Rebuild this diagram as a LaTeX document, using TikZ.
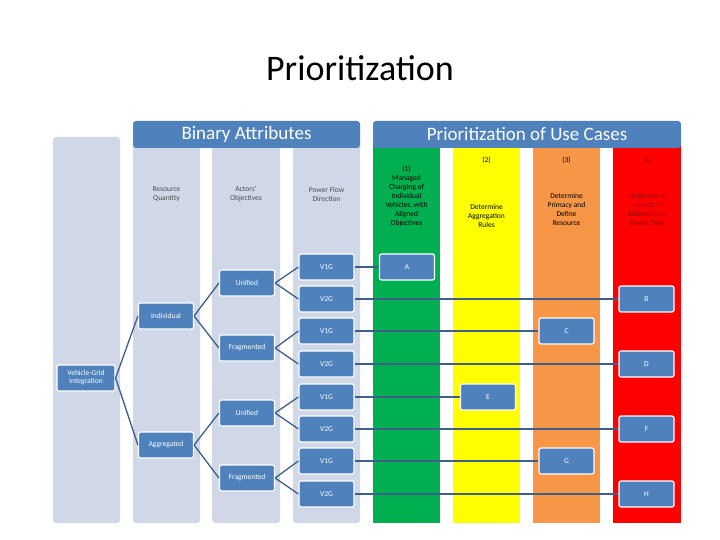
\documentclass[tikz,border=0pt]{standalone}
\usepackage{fontspec}
\setmainfont{Carlito}
\begin{document}
\begin{tikzpicture}[x=1pt,y=-1pt,
 col/.style={fill=colbg,rounded corners=3pt},
 hdr/.style={fill=hblue,rounded corners=3pt,text=white,font=\fontsize{19}{20}\selectfont},
 nb/.style={draw=white,line width=1.2pt,fill=hblue,rounded corners=2pt,text=white,font=\fontsize{7.5}{8}\selectfont,minimum width=55pt,minimum height=26pt,inner sep=1pt,align=center},
 ct/.style={font=\fontsize{7.5}{9}\selectfont,align=center,text=black!70},
 ln/.style={draw=lnblue,line width=1.3pt}]
\definecolor{hblue}{HTML}{4F81BD}
\definecolor{colbg}{HTML}{D0D8E8}
\definecolor{lnblue}{HTML}{3F5F8A}
\definecolor{cg}{HTML}{00B050}
\definecolor{cy}{HTML}{FFFF00}
\definecolor{co}{HTML}{F79646}
\definecolor{cr}{HTML}{FF0000}
\useasboundingbox (0,0) rectangle (720,540);
\node (title) at (360,68) {\fontsize{36}{40}\selectfont Prioritization};
% columns
\fill[col] (53,137) rectangle (120,523);
\fill[col] (133,140) rectangle (200,523);
\fill[col] (212,140) rectangle (280,523);
\fill[col] (293,140) rectangle (360,523);
\fill[cg] (373,140) rectangle (440,523);
\fill[cy] (453,140) rectangle (520,523);
\fill[co] (533,140) rectangle (600,523);
\fill[cr] (613,140) rectangle (681,523);
\node[hdr,minimum width=227pt,minimum height=27pt] (h1) at (246.5,134.5) {Binary Attributes};
\node[hdr,minimum width=308pt,minimum height=27pt] (h2) at (527,134.5) {Prioritization of Use Cases};
\node[ct] (t1) at (166.5,194) {Resource\\Quantity};
\node[ct] (t2) at (246,194) {Actors'\\Objectives};
\node[ct] (t3) at (326.5,194) {Power Flow\\Direction};
\node[ct,text=black] (u1) at (406.5,196) {(1)\\Managed\\Charging of\\Individual\\Vehicles, with\\Aligned\\Objectives};
\node[ct,text=black] (u2a) at (486.5,160) {(2)};
\node[ct,text=black] (u2) at (486.5,216) {Determine\\Aggregation\\Rules};
\node[ct,text=black] (u3a) at (566.5,160) {(3)};
\node[ct,text=black] (u3) at (566.5,209) {Determine\\Primacy and\\Define\\Resource};
\node[ct,text=red!60!black] (u4a) at (647,160) {(4)};
\node[ct,text=red!60!black] (u4) at (647,209) {Understand\\Impacts of\\Bidirectional\\Power Flow};
% tree
\node[nb,minimum width=58pt] (vgi) at (86,378) {Vehicle-Grid\\Integration};
\node[nb] (ind) at (166,316) {Individual};
\node[nb] (agg) at (166,445) {Aggregated};
\node[nb] (u1n) at (247,283) {Unified};
\node[nb] (f1n) at (247,348) {Fragmented};
\node[nb] (u2n) at (247,413) {Unified};
\node[nb] (f2n) at (247,478) {Fragmented};
\foreach \n/\t/\y in {a/V1G/267,b/V2G/299,c/V1G/331,d/V2G/364,e/V1G/397,f/V2G/429,g/V1G/461,h/V2G/494}
  \node[nb] (p\n) at (326.5,\y) {\t};
\node[nb] (A) at (407,267) {A};
\node[nb] (B) at (646.5,299) {B};
\node[nb] (C) at (566.5,331) {C};
\node[nb] (D) at (646.5,364) {D};
\node[nb] (E) at (488,397) {E};
\node[nb] (F) at (646.5,429) {F};
\node[nb] (G) at (566.5,461) {G};
\node[nb] (H) at (646.5,494) {H};
\foreach \a/\b in {vgi/ind,vgi/agg,ind/u1n,ind/f1n,agg/u2n,agg/f2n,u1n/pa,u1n/pb,f1n/pc,f1n/pd,u2n/pe,u2n/pf,f2n/pg,f2n/ph}
  \draw[ln] (\a.east) -- (\b.west);
\foreach \a/\b in {pa/A,pb/B,pc/C,pd/D,pe/E,pf/F,pg/G,ph/H}
  \draw[ln] (\a.east) -- (\b.west);
\end{tikzpicture}
\end{document}
